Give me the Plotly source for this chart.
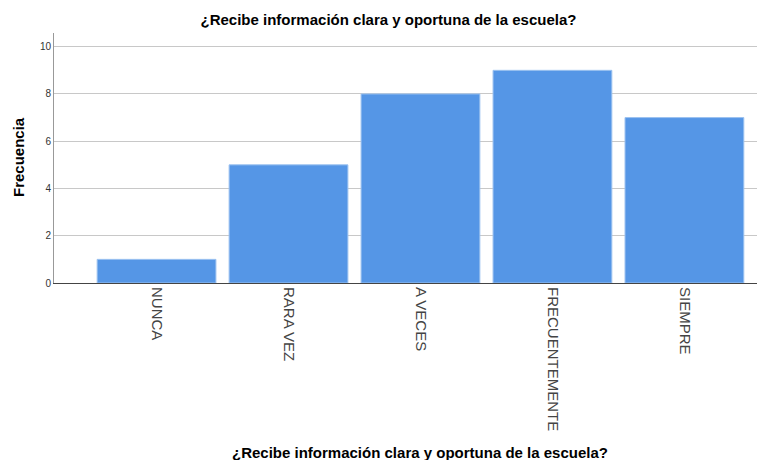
import plotly.graph_objects as go

categories = ["NUNCA", "RARA VEZ", "A VECES", "FRECUENTEMENTE", "SIEMPRE"]
frecuencia = [1, 5, 8, 9, 7]
title_text = "¿Recibe información clara y oportuna de la escuela?"

fig = go.Figure(go.Bar(
    x=categories, y=frecuencia,
    marker=dict(color="#5596E6", line=dict(color="#9cc2f0", width=1)),
    width=0.9,
))

fig.update_layout(
    width=777, height=460,
    margin=dict(l=54, r=20, t=33, b=177),
    paper_bgcolor="white", plot_bgcolor="white",
    font=dict(family="Liberation Sans, Arial, sans-serif", color="#222"),
    showlegend=False,
    title=dict(text="<b>" + title_text + "</b>", x=0.5, xanchor="center",
               y=1 - 20/460, yanchor="middle", font=dict(size=15, color="#000")),
    annotations=[
        dict(text="<b>" + title_text + "</b>", xref="paper", yref="paper",
             x=(420 - 54) / 703, y=-(452 - 283) / 250, xanchor="center", yanchor="middle",
             showarrow=False, font=dict(size=15, color="#000")),
        dict(text="<b>Frecuencia</b>", xref="paper", yref="paper",
             x=-(54 - 18) / 703, y=(283 - 157) / 250, xanchor="center", yanchor="middle",
             textangle=-90, showarrow=False, font=dict(size=15, color="#000")),
    ],
)
fig.update_xaxes(
    range=[-0.777, 4.55], automargin=False,
    tickangle=90, tickfont=dict(size=15, color="#444"),
    showline=True, linecolor="#444", linewidth=1,
    ticks="", showgrid=False,
)
fig.update_yaxes(
    range=[0, 10.58], tickvals=[0, 2, 4, 6, 8, 10], automargin=False,
    tickfont=dict(size=10, color="#333"),
    showline=True, linecolor="#999", linewidth=1,
    showgrid=True, gridcolor="#c8c8c8", gridwidth=1,
    ticks="", zeroline=False,
)

fig.write_html("out.html", config={"displayModeBar": False},
               post_script="document.body.style.margin='0';")
